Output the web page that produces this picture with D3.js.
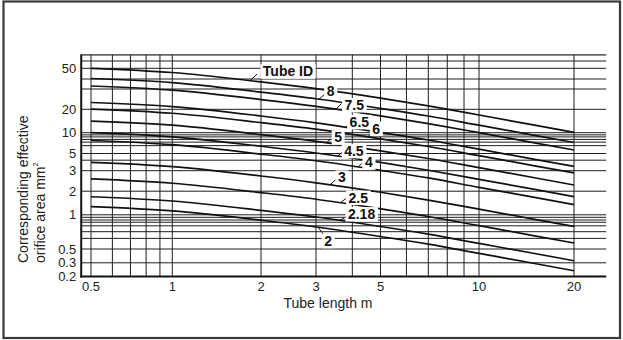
<!DOCTYPE html>
<html><head><meta charset="utf-8">
<script src="https://cdn.jsdelivr.net/npm/d3@7"></script>
<style>body{margin:0;background:#fff}svg{display:block}</style>
</head><body><svg id="c" width="623" height="340"></svg>
<script>
// ---- data ----
const tubeLengths = [0.5, 1, 2, 3, 5, 7, 10, 15, 20];
const tubeIds = ["Tube ID", "8", "7.5", "6.5", "6", "5", "4.5", "4", "3", "2.5", "2.18", "2"];
const areaTop  = [50.0, 45.8, 36.8, 30.3, 25.0, 21.4, 16.9, 12.5, 10.1];
const area8    = [40.4, 36.0, 28.2, 24.7, 20.4, 16.4, 12.5, 9.17, 7.21];
const area7_5  = [32.7, 29.3, 24.3, 21.2, 16.5, 13.1, 10.0, 7.14, 5.62];
const area6_5  = [22.9, 21.1, 16.4, 13.4, 10.1, 7.84, 5.77, 4.12, 3.37];
const area6    = [20.1, 17.8, 13.5, 11.1, 8.16, 6.31, 4.65, 3.43, 2.87];
const area5    = [14.1, 12.5, 9.39, 7.51, 5.47, 4.23, 3.26, 2.61, 2.26];
const area4_5  = [10.0, 8.70, 6.36, 5.08, 3.76, 3.04, 2.53, 2.07, 1.70];
const area4    = [7.71, 6.70, 4.90, 3.94, 3.03, 2.60, 2.16, 1.67, 1.35];
const area3    = [3.76, 3.35, 2.70, 2.36, 1.94, 1.54, 1.18, 0.913, 0.789];
const area2_5  = [2.55, 2.34, 1.92, 1.58, 1.19, 0.966, 0.802, 0.653, 0.565];
const area2_18 = [1.70, 1.50, 1.14, 0.956, 0.789, 0.675, 0.560, 0.423, 0.324];
const area2    = [1.27, 1.12, 0.895, 0.781, 0.644, 0.551, 0.425, 0.294, 0.237];
const allSeries = [areaTop, area8, area7_5, area6_5, area6, area5, area4_5, area4, area3, area2_5, area2_18, area2];

const xTickVals = [0.5, 1, 2, 3, 5, 10, 20];
const xTickLabels = ["0.5", "1", "2", "3", "5", "10", "20"];
const xGridVals = [0.5, 0.6, 0.7, 0.8, 0.9, 1, 2, 3, 4, 5, 6, 7, 8, 9, 10, 20];
const yTickVals = [50, 20, 10, 5, 3, 2, 1, 0.5, 0.3, 0.2];
const yTickLabels = ["50", "20", "10", "5", "3", "2", "1", "0.5", "0.3", "0.2"];
const yGridVals = [60, 50, 40, 30, 20, 10, 9.3, 8.7, 8, 7.3, 6.5, 5, 4, 3, 2, 1, 0.95, 0.9, 0.86, 0.8, 0.71, 0.62, 0.5, 0.3];

// ---- layout ----
const svg = d3.select("#c");
const FONT = "'Liberation Sans', Arial, Helvetica, sans-serif";

// the printed axes are not uniform logarithmic; piecewise log scales
const xs = d3.scaleLinear().domain(xTickVals.map(Math.log10))
  .range([91, 172.3, 261, 316, 380.5, 479, 574]);
const x = v => xs(Math.log10(v));
const yAnchors = [0.2, 0.3, 0.5, 1, 2, 3, 4, 5, 10, 20, 30, 40, 50, 60];
const ys = d3.scaleLinear().domain(yAnchors.map(Math.log10))
  .range([276.5, 262.8, 249, 214.8, 191.2, 170.7, 160.2, 153.5, 132.7, 109.3, 89, 79, 68.3, 61]);
const y = v => ys(Math.log10(v));

const xL = x(0.46), xR = x(25.3), yT = y(70), yB = y(0.2);

svg.append("rect").attr("x", 3.5).attr("y", 1.5).attr("width", 616.5).attr("height", 336.5)
  .attr("fill", "none").attr("stroke", "#3a3a3a").attr("stroke-width", 2.2);

const grid = svg.append("g").attr("stroke", "#1e1e1e").attr("stroke-width", 1);
grid.selectAll("line.h").data(yGridVals).join("line").attr("class", "h")
  .attr("x1", xL).attr("x2", xR).attr("y1", d => y(d)).attr("y2", d => y(d));
grid.append("line").attr("x1", xL).attr("x2", xR).attr("y1", yT).attr("y2", yT).attr("stroke", "#666").attr("stroke-width", 1.6);
grid.selectAll("line.v").data(xGridVals).join("line").attr("class", "v")
  .attr("x1", d => x(d)).attr("x2", d => x(d)).attr("y1", yT).attr("y2", yB);

// axes lines
svg.append("line").attr("x1", xL).attr("x2", xL).attr("y1", yT - 0.5).attr("y2", yB + 1)
  .attr("stroke", "#111").attr("stroke-width", 2);
svg.append("line").attr("x1", xL - 1).attr("x2", xR).attr("y1", yB).attr("y2", yB)
  .attr("stroke", "#111").attr("stroke-width", 2);

// tick labels
svg.append("g").selectAll("text").data(xTickVals).join("text")
  .attr("x", d => x(d)).attr("y", yB + 14).attr("text-anchor", "middle")
  .attr("font-family", FONT).attr("font-size", 13).attr("fill", "#222")
  .text((d, i) => xTickLabels[i]);
svg.append("g").selectAll("text").data(yTickVals).join("text")
  .attr("x", xL - 5).attr("y", d => y(d)).attr("dy", "0.36em").attr("text-anchor", "end")
  .attr("font-family", FONT).attr("font-size", 13).attr("fill", "#222")
  .text((d, i) => yTickLabels[i]);

// axis titles
svg.append("text").attr("x", 328).attr("y", 308).attr("text-anchor", "middle")
  .attr("font-family", FONT).attr("font-size", 14).attr("fill", "#222").text("Tube length m");
const yt = svg.append("g").attr("font-family", FONT).attr("font-size", 14).attr("fill", "#222");
yt.append("text").attr("transform", "translate(28,263) rotate(-90)").text("Corresponding effective");
const t2 = yt.append("text").attr("transform", "translate(44.5,263) rotate(-90)").text("orifice area mm");
t2.append("tspan").attr("font-size", 7).attr("dy", -7).text("2");

// curves
const line = d3.line().x(d => x(d[0])).y(d => y(d[1])).curve(d3.curveMonotoneX);
svg.append("g").attr("fill", "none").attr("stroke", "#111").attr("stroke-width", 1.7)
  .selectAll("path").data(allSeries).join("path")
  .attr("d", s => line(tubeLengths.map((t, i) => [t, s[i]])));

// labels: leader tip on the curve (tube length), text centre offset, leader end offset
const labelLayout = [
  {at: 1.835, tx: 38, ty: -9.5, lx: 7, ly: -6.5},
  {at: 3.07, tx: 11.7, ty: -8, lx: 6, ly: -5},
  {at: 3.51, tx: 18.5, ty: -4.3, lx: 5.5, ly: -5.5},
  {at: 3.80, tx: 13.5, ty: -5.4, lx: 5, ly: -5.5},
  {at: 4.52, tx: 8.5, ty: -8.4, lx: 4.5, ly: -4.7},
  {at: 3.25, tx: 12, ty: -5.4, lx: 5, ly: -4},
  {at: 3.56, tx: 16.3, ty: -5.4, lx: 5.3, ly: -4.7},
  {at: 4.19, tx: 10.7, ty: -4.7, lx: 3.7, ly: -3.7},
  {at: 3.35, tx: 12, ty: -7.5, lx: 6, ly: -5.3},
  {at: 3.63, tx: 18.2, ty: -5.3, lx: 6, ly: -4.3},
  {at: 3.63, tx: 21.5, ty: -6.5, lx: 7, ly: -4.7},
  {at: 3.05, tx: 10, ty: 13.4, lx: 5, ly: 6.7}
];
function curveY(s, v) {
  const px = x(v);
  for (let i = 0; i < tubeLengths.length - 1; i++) {
    const a = x(tubeLengths[i]), b = x(tubeLengths[i + 1]);
    if (px >= a && px <= b) {
      const t = (px - a) / (b - a);
      return y(s[i]) + t * (y(s[i + 1]) - y(s[i]));
    }
  }
  return y(s[s.length - 1]);
}
const lab = svg.append("g");
labelLayout.forEach((L, i) => {
  const px = x(L.at), py = curveY(allSeries[i], L.at);
  lab.append("line").attr("x1", px).attr("y1", py).attr("x2", px + L.lx).attr("y2", py + L.ly)
    .attr("stroke", "#111").attr("stroke-width", 1);
  const g = lab.append("g");
  const bg = g.append("rect").attr("fill", "#fff");
  const t = g.append("text").attr("x", px + L.tx).attr("y", py + L.ty).attr("dy", "0.36em")
    .attr("text-anchor", "middle").attr("font-family", FONT).attr("font-size", 14)
    .attr("font-weight", "bold").attr("fill", "#111").text(tubeIds[i]);
  const bb = t.node().getBBox();
  bg.attr("x", bb.x - 2.5).attr("y", bb.y + 1).attr("width", bb.width + 5).attr("height", bb.height - 1.5);
});
</script></body></html>
